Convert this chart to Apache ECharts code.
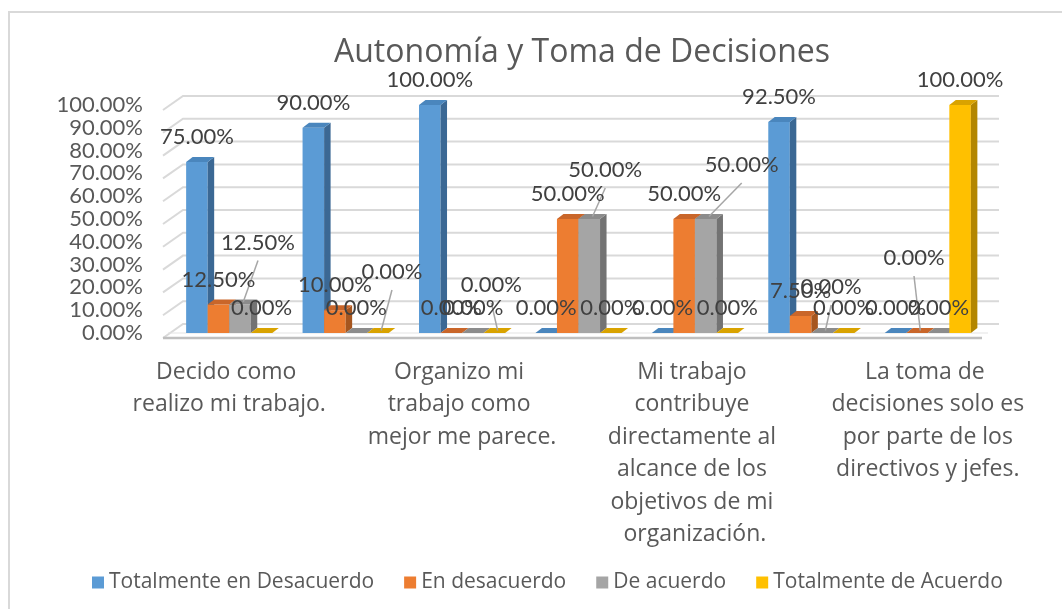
<!DOCTYPE html>
<html>
<head>
<meta charset="utf-8">
<script src="https://cdn.jsdelivr.net/npm/echarts@6/dist/echarts.min.js"></script>
<style>
  html, body { margin: 0; padding: 0; background: #fff; }
  #main { width: 1062px; height: 609px; }
</style>
</head>
<body>
<div id="main"></div>
<script>
// categories (only every other one is labelled in the original)
const categories = [
  'Decido como realizo mi trabajo.',
  '',
  'Organizo mi trabajo como mejor me parece.',
  '',
  'Mi trabajo contribuye directamente al alcance de los objetivos de mi organización.',
  '',
  'La toma de decisiones solo es por parte de los directivos y jefes.'
]
const seriesNames = ['Totalmente en Desacuerdo', 'En desacuerdo', 'De acuerdo', 'Totalmente de Acuerdo']
const totDesacuerdo = [75, 90, 100, 0, 0, 92.5, 0]
const enDesacuerdo = [12.5, 10, 0, 50, 50, 7.5, 0]
const deAcuerdo = [12.5, 0, 0, 50, 50, 0, 0]
const totAcuerdo = [0, 0, 0, 0, 0, 0, 100]
const yTicks = [0, 10, 20, 30, 40, 50, 60, 70, 80, 90, 100]

// colours: front, side, top
const palette = [
  ['#5B9BD5', '#3b6894', '#4a86bd'],
  ['#ED7D31', '#a6561f', '#c9662a'],
  ['#A5A5A5', '#737373', '#8c8c8c'],
  ['#FFC000', '#b38600', '#d9a300']
]
// hand-moved data labels in the original (dx, dy), key = series-category
const labelNudge = {
  '2-0': [18, -37], '3-1': [14, -36], '3-2': [-3, -23], '2-3': [16, -24],
  '2-4': [36, -29], '2-5': [9, -21], '1-6': [-3, -50]
}
const FONT = 'Lato, "Open Sans", sans-serif'
const TEXTFONT = '"Open Sans", Lato, sans-serif'
const DX = 6.5, DY = -5

function barSeries(name, values, s) {
  const col = palette[s]
  return {
    name: name,
    type: 'custom',
    coordinateSystem: 'cartesian2d',
    itemStyle: {color: col[0]},
    data: values.map((v, i) => [i, v]),
    renderItem: function (params, api) {
      const cat = api.value(0)
      const v = api.value(1)
      const catW = api.size([1, 0])[0]
      const bw = catW * 0.185
      const base = api.coord([cat, 0])
      const top = api.coord([cat, v])
      const x0 = base[0] - 2 * bw + s * bw
      const children = [
        {type: 'rect', shape: {x: x0, y: top[1], width: bw, height: base[1] - top[1]}, style: {fill: col[0]}},
        {type: 'polygon', shape: {points: [[x0 + bw, top[1]], [x0 + bw + DX, top[1] + DY], [x0 + bw + DX, base[1] + DY], [x0 + bw, base[1]]]}, style: {fill: col[1]}},
        {type: 'polygon', shape: {points: [[x0, top[1]], [x0 + DX, top[1] + DY], [x0 + bw + DX, top[1] + DY], [x0 + bw, top[1]]]}, style: {fill: col[2]}}
      ]
      const nudge = labelNudge[s + '-' + cat] || [0, 0]
      const lx = x0 + bw / 2 + nudge[0]
      const ly = top[1] - 25 + nudge[1]
      if (labelNudge[s + '-' + cat]) {
        children.push({
          type: 'line', z2: 50,
          shape: {x1: lx, y1: ly + 18, x2: x0 + bw / 2 + DX / 2, y2: top[1] + DY / 2},
          style: {stroke: '#a6a6a6', lineWidth: 1.5}
        })
      }
      children.push({
        type: 'text', z2: 100,
        style: {
          x: lx, y: ly, text: v.toFixed(2) + '%',
          fill: '#404040', font: '22px ' + FONT,
          align: 'center', verticalAlign: 'middle'
        }
      })
      return {type: 'group', children: children}
    }
  }
}

const chart = echarts.init(document.getElementById('main'))
const option = {
  backgroundColor: '#fff',
  animation: false,
  graphic: [{
    type: 'rect', silent: true,
    shape: {x: 9, y: 12, width: 1200, height: 800},
    style: {fill: 'none', stroke: '#d9d9d9', lineWidth: 2}
  }],
  title: {
    text: 'Autonomía y Toma de Decisiones',
    left: 329, top: 32,
    textStyle: {fontFamily: TEXTFONT, fontSize: 32, fontWeight: 'normal', color: '#595959'}
  },
  legend: {
    data: seriesNames,
    left: 87, top: 567,
    icon: 'rect', itemWidth: 12, itemHeight: 12, itemGap: 30,
    textStyle: {fontFamily: TEXTFONT, fontSize: 21, color: '#595959'}
  },
  grid: {left: 171, right: 76, top: 105, bottom: 276},
  xAxis: {
    type: 'category',
    data: categories,
    axisLine: {show: false},
    axisTick: {show: false},
    axisLabel: {
      interval: 1, margin: 23,
      width: 196, overflow: 'break', lineHeight: 32.5,
      fontFamily: TEXTFONT, fontSize: 23, color: '#595959'
    }
  },
  yAxis: {
    type: 'value', min: 0, max: 100, interval: 10,
    splitLine: {show: false},
    axisLine: {show: false},
    axisTick: {show: false},
    axisLabel: {
      margin: 28, padding: [10, 0, 0, 0],
      fontFamily: FONT, fontSize: 22, color: '#595959',
      formatter: v => v.toFixed(2) + '%'
    }
  },
  series: [
    {
      type: 'custom',
      coordinateSystem: 'cartesian2d',
      silent: true,
      data: yTicks.map(v => [0, v]),
      renderItem: function (params, api) {
        const cs = params.coordSys
        const y = api.coord([0, api.value(1)])[1]
        const children = [{
          type: 'polyline',
          shape: {points: [[cs.x - 8, y + 5], [cs.x + 12, y - 9], [cs.x + cs.width + 13, y - 9]]},
          style: {stroke: '#d9d9d9', lineWidth: 2, fill: null}
        }]
        if (api.value(1) === 0) {
          children.push({
            type: 'line',
            shape: {x1: cs.x - 8, y1: y + 5, x2: cs.x + cs.width - 4, y2: y + 5},
            style: {stroke: '#bfbfbf', lineWidth: 2.5}
          })
          children.push({
            type: 'line',
            shape: {x1: cs.x - 3, y1: y, x2: cs.x + cs.width + 2, y2: y},
            style: {stroke: '#e3e3e3', lineWidth: 1}
          })
        }
        return {type: 'group', children: children}
      }
    },
    barSeries(seriesNames[0], totDesacuerdo, 0),
    barSeries(seriesNames[1], enDesacuerdo, 1),
    barSeries(seriesNames[2], deAcuerdo, 2),
    barSeries(seriesNames[3], totAcuerdo, 3)
  ]
}
chart.setOption(option)
window.addEventListener('resize', function () {
  chart.resize()
})
</script>
</body>
</html>
